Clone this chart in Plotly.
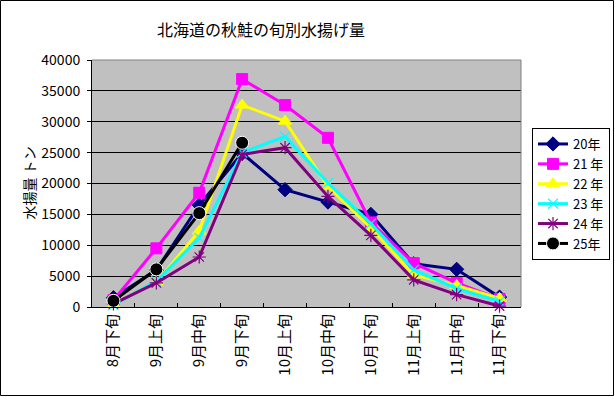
import plotly.graph_objects as go

categories = ["8月下旬", "9月上旬", "9月中旬", "9月下旬", "10月上旬", "10月中旬",
              "10月下旬", "11月上旬", "11月中旬", "11月下旬"]
series_names = ["20年", "21 年", "22 年", "23 年", "24 年", "25年"]
v20 = [1500, 6000, 16500, 24900, 19000, 17000, 15000, 7000, 6100, 1600]
v21 = [1100, 9500, 18500, 36900, 32700, 27400, 13700, 7100, 3900, 1300]
v22 = [400, 4000, 12300, 32700, 30100, 19500, 12800, 5200, 3500, 1400]
v23 = [300, 4200, 11200, 25000, 27600, 20100, 13500, 6000, 3000, 900]
v24 = [500, 3900, 8100, 24700, 25800, 17900, 11600, 4400, 2000, 150]
v25 = [1000, 6100, 15200, 26600]
y_ticks = [0, 5000, 10000, 15000, 20000, 25000, 30000, 35000, 40000]

FONT = "Noto Sans CJK JP, Liberation Sans, sans-serif"

styles = [
    dict(color="#000080", symbol="diamond", size=11, mline=dict(color="#000080", width=1)),
    dict(color="#FF00FF", symbol="square", size=11, mline=dict(color="#FF00FF", width=1)),
    dict(color="#FFFF00", symbol="triangle-up", size=12, mline=dict(color="#FFFF00", width=1)),
    dict(color="#00FFFF", symbol="x-thin-open", size=10, mline=dict(color="#00FFFF", width=1.2)),
    dict(color="#800080", symbol="asterisk-open", size=11, mline=dict(color="#800080", width=1.2)),
    dict(color="#000000", symbol="circle", size=13, mline=dict(color="#FFFFFF", width=1)),
]
data = [v20, v21, v22, v23, v24, v25]

fig = go.Figure()
for name, vals, st in zip(series_names, data, styles):
    fig.add_trace(go.Scatter(
        x=categories[:len(vals)], y=vals, name=name, mode="lines+markers",
        line=dict(color=st["color"], width=3),
        marker=dict(symbol=st["symbol"], size=st["size"], color=st["color"], line=st["mline"]),
        cliponaxis=False,
    ))

fig.update_layout(
    width=615, height=397,
    margin=dict(l=92, r=94, t=60, b=90, autoexpand=False),
    paper_bgcolor="white", plot_bgcolor="#C0C0C0",
    font=dict(family=FONT, size=13, color="black"),
    title=dict(text="北海道の秋鮭の旬別水揚げ量", x=(261 - 92) / 429, xref="paper", xanchor="center",
               y=1 - 30 / 397, yanchor="middle", font=dict(size=16, family=FONT)),
    showlegend=True,
    legend=dict(x=(532 - 92) / 429, y=(307 - 128) / 247, xanchor="left", yanchor="top",
                bordercolor="black", borderwidth=1, bgcolor="white",
                font=dict(size=13, family=FONT), tracegroupgap=0, itemwidth=30),
    xaxis=dict(type="category", categoryorder="array", categoryarray=categories,
               tickangle=-90, ticks="inside", ticklen=4, tickcolor="black", tickson="boundaries",
               showline=True, linecolor="black", linewidth=1, showgrid=False,
               tickfont=dict(size=15, family=FONT), range=[-0.5, 9.5], automargin=False),
    yaxis=dict(range=[0, 40000], tickvals=y_ticks, ticktext=[str(v) for v in y_ticks],
               ticks="outside", ticklen=4, tickcolor="black", ticklabelstandoff=4,
               showline=True, linecolor="black", linewidth=1,
               showgrid=True, gridcolor="black", gridwidth=1, zeroline=False,
               tickfont=dict(size=14, family=FONT), automargin=False),
)

fig.add_annotation(text="水揚量 トン", x=(28 - 92) / 429, y=0.5, xref="paper", yref="paper",
                   textangle=-90, showarrow=False, font=dict(size=14, family=FONT),
                   xanchor="center", yanchor="middle")

# grey top/right border of plot area
fig.add_shape(type="line", xref="paper", yref="paper", x0=0, x1=1, y0=1, y1=1,
              line=dict(color="#808080", width=1), layer="above")
fig.add_shape(type="line", xref="paper", yref="paper", x0=1, x1=1, y0=0, y1=1,
              line=dict(color="#808080", width=1), layer="above")
# outer chart border
fig.add_shape(type="rect", xref="paper", yref="paper",
              x0=(0.5 - 92) / 429, x1=(613.5 - 92) / 429,
              y0=(307 - 395.5) / 247, y1=(307 - 0.5) / 247,
              line=dict(color="black", width=1), fillcolor="rgba(0,0,0,0)", layer="above")

fig.write_html("out.html", config={"displayModeBar": False},
               post_script="document.body.style.margin='0';document.body.style.overflow='hidden';")
